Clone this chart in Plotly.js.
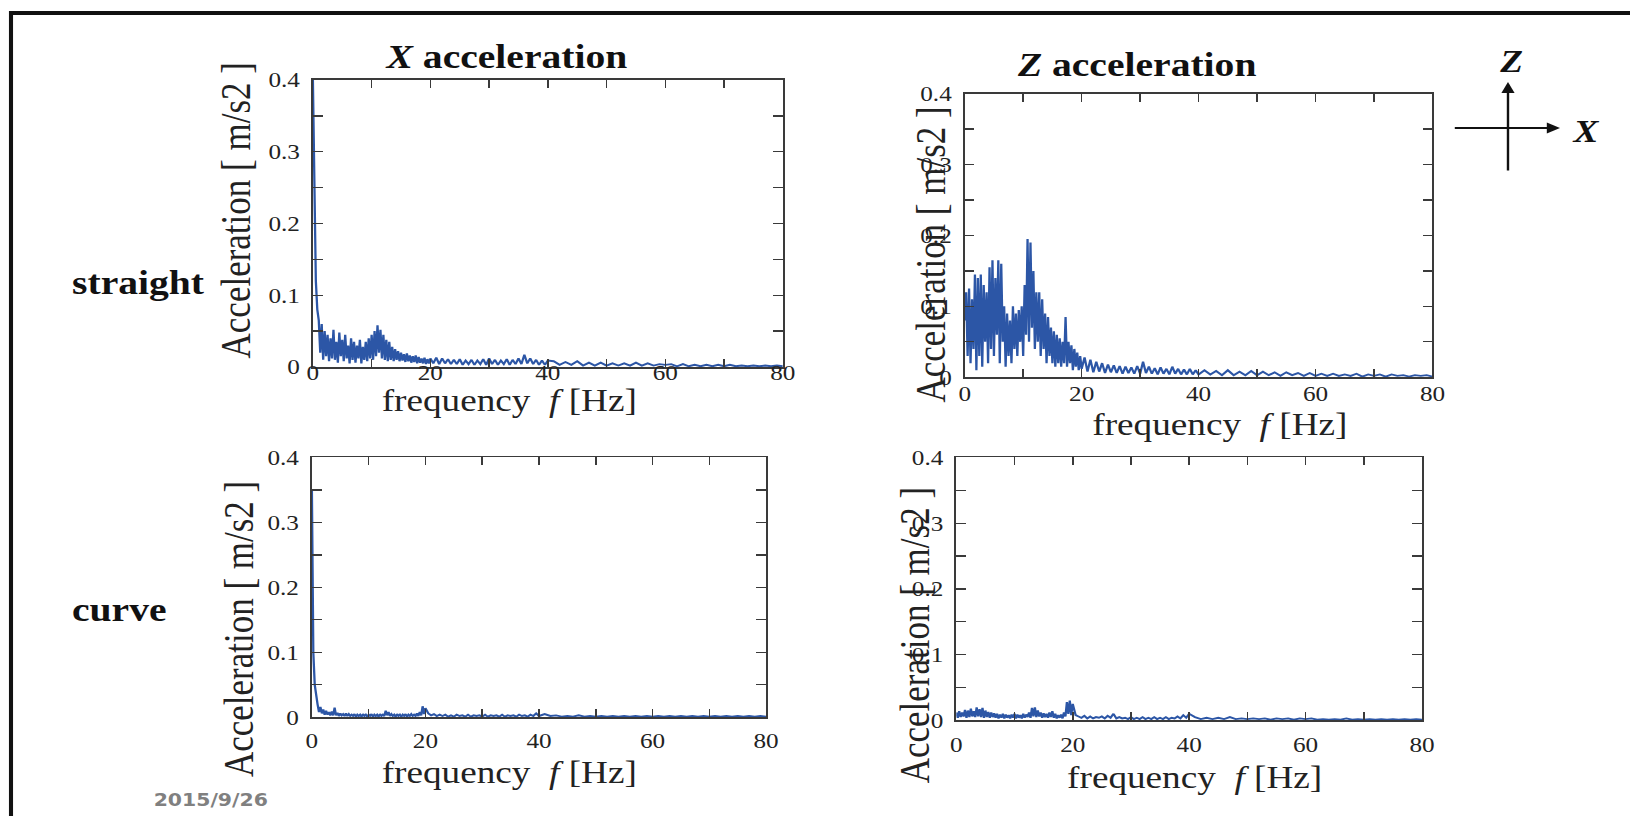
<!DOCTYPE html>
<html>
<head>
<meta charset="utf-8">
<script src="https://cdn.plot.ly/plotly-3.0.1.min.js"></script>
<style>
  html, body { margin: 0; padding: 0; background: #ffffff; overflow: hidden; }
  #wrap { width: 1358px; height: 816px; transform: scaleX(1.20029); transform-origin: 0 0; }
</style>
</head>
<body>
<div id="wrap"><div id="chart" style="width:1358px;height:816px;"></div></div>
<script>
// ---- data (frequency in Hz, acceleration amplitude in m/s2) ----
const FREQ = [
  0,0.25,0.5,0.75,1,1.25,1.5,1.75,2,2.25,
  2.5,2.75,3,3.25,3.5,3.75,4,4.25,4.5,4.75,
  5,5.25,5.5,5.75,6,6.25,6.5,6.75,7,7.25,
  7.5,7.75,8,8.25,8.5,8.75,9,9.25,9.5,9.75,
  10,10.25,10.5,10.75,11,11.25,11.5,11.75,12,12.25,
  12.5,12.75,13,13.25,13.5,13.75,14,14.25,14.5,14.75,
  15,15.25,15.5,15.75,16,16.25,16.5,16.75,17,17.25,
  17.5,17.75,18,18.25,18.5,18.75,19,19.25,19.5,19.75,
  20,
  20.5,21,21.5,22,22.5,23,23.5,24,24.5,25,
  25.5,26,26.5,27,27.5,28,28.5,29,29.5,30,
  30.5,31,31.5,32,32.5,33,33.5,34,34.5,35,
  35.5,36,36.5,37,37.5,38,38.5,39,39.5,40,
  41,42,43,44,45,46,47,48,49,50,
  51,52,53,54,55,56,57,58,59,60,
  61,62,63,64,65,66,67,68,69,70,
  71,72,73,74,75,76,77,78,79,80
];

const X_STRAIGHT = [
  0.40,0.20,0.12,0.08,0.065,0.02,0.06,0.01,0.05,0.015,
  0.045,0.008,0.04,0.012,0.052,0.01,0.035,0.006,0.048,0.015,
  0.038,0.008,0.045,0.012,0.03,0.005,0.04,0.01,0.035,0.006,
  0.03,0.012,0.038,0.005,0.028,0.01,0.035,0.008,0.04,0.012,
  0.045,0.01,0.05,0.015,0.058,0.02,0.052,0.012,0.045,0.01,
  0.038,0.008,0.035,0.01,0.028,0.008,0.025,0.01,0.022,0.008,
  0.02,0.009,0.018,0.007,0.019,0.008,0.016,0.006,0.015,0.007,
  0.016,0.005,0.014,0.006,0.012,0.005,0.013,0.004,0.011,0.005,
  0.012,
  0.005,0.013,0.004,0.012,0.005,0.011,0.004,0.010,0.004,0.011,
  0.003,0.009,0.004,0.010,0.003,0.009,0.004,0.011,0.003,0.012,
  0.004,0.010,0.003,0.009,0.004,0.011,0.003,0.010,0.004,0.012,
  0.004,0.017,0.005,0.012,0.004,0.010,0.003,0.009,0.003,0.009,
  0.008,0.003,0.007,0.003,0.008,0.002,0.006,0.002,0.006,0.002,
  0.005,0.002,0.005,0.002,0.006,0.002,0.005,0.002,0.004,0.003,
  0.004,0.001,0.004,0.001,0.003,0.001,0.003,0.001,0.003,0.001,
  0.003,0.001,0.002,0.001,0.002,0.001,0.002,0.001,0.002,0.001
];

const Z_STRAIGHT = [
  0.08,0.12,0.03,0.125,0.02,0.11,0.04,0.145,0.01,0.14,
  0.03,0.145,0.015,0.13,0.05,0.12,0.02,0.155,0.04,0.165,
  0.03,0.14,0.06,0.165,0.02,0.16,0.05,0.10,0.015,0.09,
  0.03,0.08,0.02,0.10,0.04,0.09,0.03,0.095,0.05,0.10,
  0.03,0.13,0.06,0.195,0.05,0.19,0.07,0.15,0.04,0.12,
  0.05,0.12,0.03,0.11,0.04,0.09,0.02,0.085,0.03,0.07,
  0.02,0.065,0.015,0.06,0.02,0.055,0.015,0.05,0.02,0.085,
  0.015,0.05,0.02,0.045,0.01,0.04,0.015,0.035,0.01,0.03,
  0.012,
  0.028,0.008,0.025,0.007,0.022,0.008,0.020,0.006,0.018,0.007,
  0.017,0.006,0.016,0.005,0.015,0.006,0.014,0.005,0.016,0.005,
  0.022,0.006,0.015,0.005,0.013,0.004,0.014,0.005,0.012,0.004,
  0.015,0.005,0.012,0.004,0.011,0.004,0.012,0.004,0.010,0.004,
  0.010,0.004,0.009,0.003,0.010,0.003,0.008,0.003,0.009,0.003,
  0.008,0.003,0.007,0.002,0.007,0.003,0.006,0.002,0.006,0.002,
  0.005,0.002,0.005,0.002,0.004,0.002,0.005,0.001,0.004,0.002,
  0.004,0.001,0.004,0.002,0.003,0.001,0.003,0.002,0.003,0.001
];

const X_CURVE = [
  0.35,0.10,0.05,0.03,0.02,0.008,0.016,0.006,0.012,0.004,
  0.010,0.004,0.008,0.003,0.009,0.003,0.015,0.003,0.007,0.002,
  0.006,0.003,0.005,0.002,0.006,0.002,0.005,0.002,0.004,0.002,
  0.005,0.001,0.004,0.002,0.004,0.001,0.005,0.002,0.004,0.001,
  0.004,0.002,0.005,0.001,0.004,0.002,0.004,0.001,0.005,0.002,
  0.004,0.002,0.010,0.003,0.008,0.002,0.005,0.002,0.004,0.001,
  0.005,0.002,0.004,0.001,0.004,0.002,0.005,0.001,0.004,0.002,
  0.005,0.002,0.004,0.002,0.006,0.002,0.008,0.003,0.017,0.005,
  0.014,
  0.006,0.003,0.005,0.002,0.004,0.002,0.004,0.001,0.003,0.001,
  0.004,0.002,0.003,0.001,0.004,0.001,0.003,0.002,0.003,0.001,
  0.004,0.001,0.003,0.002,0.003,0.001,0.004,0.001,0.003,0.002,
  0.003,0.001,0.004,0.002,0.003,0.001,0.004,0.002,0.006,0.002,
  0.005,0.002,0.003,0.001,0.002,0.001,0.003,0.001,0.002,0.001,
  0.002,0.001,0.002,0.001,0.002,0.001,0.002,0.001,0.002,0.001,
  0.002,0.001,0.002,0.001,0.002,0.001,0.002,0.001,0.002,0.001,
  0.002,0.001,0.002,0.001,0.002,0.001,0.002,0.001,0.002,0.001
];

const Z_CURVE = [
  0.012,0.004,0.014,0.005,0.012,0.006,0.016,0.004,0.015,0.005,
  0.018,0.006,0.014,0.005,0.020,0.006,0.017,0.005,0.019,0.004,
  0.015,0.005,0.013,0.004,0.012,0.005,0.011,0.004,0.010,0.003,
  0.009,0.004,0.010,0.003,0.009,0.004,0.008,0.003,0.009,0.004,
  0.010,0.003,0.009,0.004,0.008,0.003,0.010,0.004,0.009,0.005,
  0.012,0.004,0.019,0.006,0.020,0.005,0.015,0.006,0.012,0.004,
  0.011,0.005,0.010,0.004,0.012,0.005,0.014,0.004,0.010,0.003,
  0.008,0.004,0.009,0.003,0.012,0.006,0.028,0.010,0.030,0.008,
  0.025,
  0.008,0.006,0.004,0.007,0.003,0.006,0.003,0.005,0.004,0.006,
  0.003,0.007,0.004,0.010,0.003,0.005,0.003,0.004,0.002,0.005,
  0.002,0.004,0.002,0.005,0.002,0.004,0.002,0.005,0.002,0.004,
  0.002,0.005,0.002,0.004,0.003,0.006,0.003,0.008,0.004,0.010,
  0.005,0.002,0.004,0.002,0.004,0.002,0.005,0.002,0.003,0.002,
  0.003,0.002,0.003,0.001,0.003,0.002,0.003,0.001,0.003,0.002,
  0.003,0.001,0.002,0.001,0.002,0.001,0.003,0.001,0.002,0.001,
  0.002,0.001,0.002,0.001,0.002,0.001,0.002,0.001,0.002,0.001
];

const X_TICKS = [0, 20, 40, 60, 80];
const Y_TICKS = [0, 0.1, 0.2, 0.3, 0.4];
const Y_TICK_TEXT = ['0', '0.1', '0.2', '0.3', '0.4'];
const COL_TITLES = ['<b><i>X</i> acceleration</b>', '<b><i>Z</i> acceleration</b>'];
const ROW_TITLES = ['<b>straight</b>', '<b>curve</b>'];
const X_TITLE = 'frequency\u00a0\u00a0<i>f</i>\u00a0[Hz]';
const Y_TITLE = 'Acceleration [ m/s2 ]';
const DATE_TEXT = '2015/9/26';

// ---- layout helpers (full-page pixel positions -> paper fractions) ----
const PW = 1630, PH = 816;
const fx = v => v / PW;
const fy = v => 1 - v / PH;
const SERIF = 'Liberation Serif, Times New Roman, serif';
const LINE = '#2c56a6';
const AX = '#3a3a3a';

const panels = [
  {y: X_STRAIGHT, box: [312.9, 80, 782.8, 367],      ytitle: [237, 210], xtitle: [510, 400], xstand: -14},
  {y: Z_STRAIGHT, box: [964.7, 93.6, 1432.5, 377.3], ytitle: [931, 255], xtitle: [1220, 424], xstand: -3},
  {y: X_CURVE,    box: [311.9, 457.4, 766.1, 717.3], ytitle: [239, 629], xtitle: [510, 772], xstand: 4},
  {y: Z_CURVE,    box: [956.3, 457.4, 1422, 720.4],  ytitle: [915, 635], xtitle: [1195, 777], xstand: 5}
];

function xAxis(p, anchor) {
  return {
    domain: [fx(p.box[0]), fx(p.box[2])], anchor: anchor, range: [0, 80],
    tickvals: X_TICKS, ticks: 'inside', ticklen: 8, tickwidth: 1.3, tickcolor: AX,
    minor: {dtick: 10, tick0: 0, ticks: 'inside', ticklen: 8, tickwidth: 1.3, tickcolor: AX, showgrid: false},
    showline: true, linecolor: AX, linewidth: 1.6, mirror: 'allticks',
    showgrid: false, zeroline: false,
    tickfont: {family: SERIF, size: 21, color: '#222'}, ticklabelstandoff: p.xstand
  };
}
function yAxis(p, anchor) {
  return {
    domain: [fy(p.box[3]), fy(p.box[1])], anchor: anchor, range: [0, 0.4],
    tickvals: Y_TICKS, ticktext: Y_TICK_TEXT, ticks: 'inside', ticklen: 8, tickwidth: 1.3, tickcolor: AX,
    minor: {dtick: 0.05, tick0: 0, ticks: 'inside', ticklen: 8, tickwidth: 1.3, tickcolor: AX, showgrid: false},
    showline: true, linecolor: AX, linewidth: 1.6, mirror: 'allticks',
    showgrid: false, zeroline: false,
    tickfont: {family: SERIF, size: 21, color: '#222'}, ticklabelstandoff: 5
  };
}

const data = [];
const layout = {
  width: 1358, height: 816,
  margin: {l: 0, r: 0, t: 0, b: 0},
  paper_bgcolor: '#ffffff', plot_bgcolor: '#ffffff',
  showlegend: false,
  annotations: [], shapes: []
};

panels.forEach((p, i) => {
  const n = i === 0 ? '' : String(i + 1);
  data.push({
    type: 'scatter', mode: 'lines', x: FREQ, y: p.y,
    xaxis: 'x' + n, yaxis: 'y' + n,
    line: {color: LINE, width: 1.9}, hoverinfo: 'x+y'
  });
  layout['xaxis' + n] = xAxis(p, 'y' + n);
  layout['yaxis' + n] = yAxis(p, 'x' + n);
  layout.annotations.push({
    text: Y_TITLE, textangle: -90, xref: 'paper', yref: 'paper',
    x: fx(p.ytitle[0]), y: fy(p.ytitle[1]), xanchor: 'center', yanchor: 'middle',
    showarrow: false, font: {family: SERIF, size: 35, color: '#222'}
  });
  layout.annotations.push({
    text: X_TITLE, xref: 'paper', yref: 'paper',
    x: fx(p.xtitle[0]), y: fy(p.xtitle[1]), xanchor: 'center', yanchor: 'middle',
    showarrow: false, font: {family: SERIF, size: 31, color: '#222'}
  });
});

// column titles
layout.annotations.push({text: COL_TITLES[0], xref: 'paper', yref: 'paper', x: fx(506), y: fy(57),
  xanchor: 'center', yanchor: 'middle', showarrow: false, font: {family: SERIF, size: 33, color: '#111'}});
layout.annotations.push({text: COL_TITLES[1], xref: 'paper', yref: 'paper', x: fx(1137), y: fy(65),
  xanchor: 'center', yanchor: 'middle', showarrow: false, font: {family: SERIF, size: 33, color: '#111'}});
// row titles
layout.annotations.push({text: ROW_TITLES[0], xref: 'paper', yref: 'paper', x: fx(70), y: fy(283),
  xanchor: 'left', yanchor: 'middle', showarrow: false, font: {family: SERIF, size: 33, color: '#111'}});
layout.annotations.push({text: ROW_TITLES[1], xref: 'paper', yref: 'paper', x: fx(70), y: fy(610),
  xanchor: 'left', yanchor: 'middle', showarrow: false, font: {family: SERIF, size: 33, color: '#111'}});
// date
layout.annotations.push({text: DATE_TEXT, xref: 'paper', yref: 'paper', x: fx(211), y: fy(800),
  xanchor: 'center', yanchor: 'middle', showarrow: false,
  font: {family: 'DejaVu Sans, sans-serif', size: 17, color: '#808080', weight: 'bold'}});
// coordinate axes symbol
layout.annotations.push({text: '', xref: 'paper', yref: 'paper', x: fx(1508), y: fy(82),
  ax: 0, ay: 90, showarrow: true, arrowhead: 2, arrowsize: 1.1, arrowwidth: 2, arrowcolor: '#111'});
layout.annotations.push({text: '', xref: 'paper', yref: 'paper', x: fx(1560), y: fy(128),
  ax: -(1560 - 1453) / 1.20029, ay: 0, showarrow: true, arrowhead: 2, arrowsize: 1.1, arrowwidth: 2, arrowcolor: '#111'});
layout.annotations.push({text: '<b><i>Z</i></b>', xref: 'paper', yref: 'paper', x: fx(1511), y: fy(62),
  xanchor: 'center', yanchor: 'middle', showarrow: false, font: {family: SERIF, size: 31, color: '#111'}});
layout.annotations.push({text: '<b><i>X</i></b>', xref: 'paper', yref: 'paper', x: fx(1586), y: fy(131),
  xanchor: 'center', yanchor: 'middle', showarrow: false, font: {family: SERIF, size: 31, color: '#111'}});

// slide frame (top and left edges visible)
layout.shapes.push({type: 'line', xref: 'paper', yref: 'paper', x0: fx(9), x1: 1.02, y0: fy(13), y1: fy(13),
  line: {color: '#111', width: 4}});
layout.shapes.push({type: 'line', xref: 'paper', yref: 'paper', x0: fx(11), x1: fx(11), y0: fy(11), y1: -0.02,
  line: {color: '#111', width: 3.4}});

Plotly.newPlot('chart', data, layout, {displayModeBar: false, staticPlot: true});
</script>
</body>
</html>
